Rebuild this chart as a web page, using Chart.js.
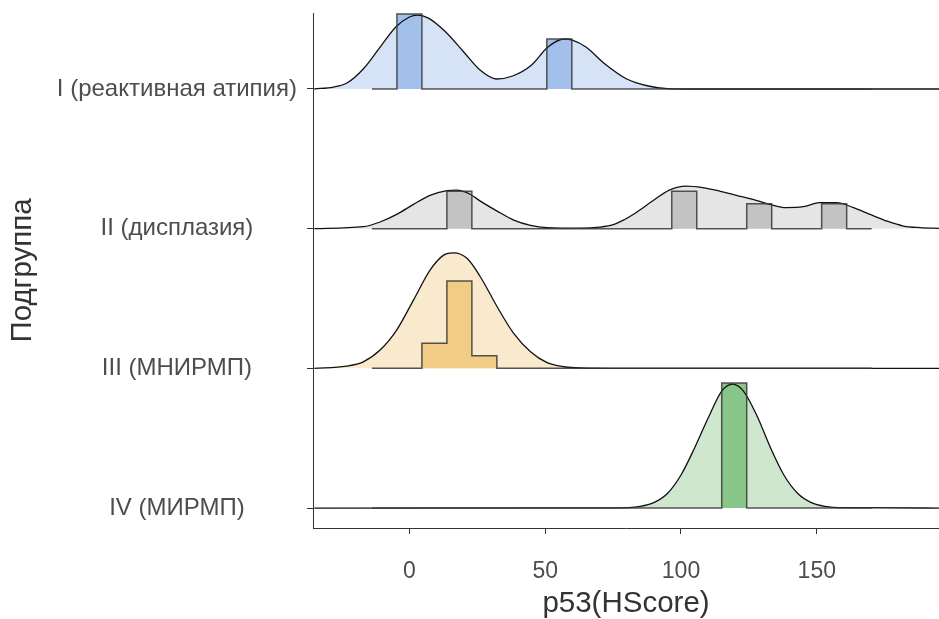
<!DOCTYPE html>
<html>
<head>
<meta charset="utf-8">
<script src="https://cdn.jsdelivr.net/npm/chart.js@4.4.0/dist/chart.umd.min.js"></script>
<style>
  html, body { margin: 0; padding: 0; background: #fff; }
  #wrap { width: 939px; height: 619px; }
</style>
</head>
<body>
<div id="wrap"><canvas id="chart"></canvas></div>
<script>
// groups, top row first
var groups = ['I (реактивная атипия)', 'II (дисплазия)', 'III (МНИРМП)', 'IV (МИРМП)'];
var xTicks = [0, 50, 100, 150];

// histogram: 20 bins of width 9.2 starting at -13.8
var binStart = -13.8;
var binWidth = 9.2;
var countsI   = [0,3,0,0,0,0,0,2,0,0,0,0,0,0,0,0,0,0,0,0];
var countsII  = [0,0,0,3,0,0,0,0,0,0,0,0,3,0,0,2,0,0,2,0];
var countsIII = [0,0,2,7,1,0,0,0,0,0,0,0,0,0,0,0,0,0,0,0];
var countsIV  = [0,0,0,0,0,0,0,0,0,0,0,0,0,0,9,0,0,0,0,0];

// density curves
var densXI = [-35,-28,-23,-17,-11,-5,0,3,7,13,20,26,32,38,45,51,57,60,65,72,80,88,95,105,195];
var densYI = [0,0.0017,0.0052,0.0174,0.0357,0.0539,0.0626,0.0643,0.0617,0.0504,0.0322,0.0165,0.0087,0.0113,0.0209,0.0365,0.0435,0.0426,0.0365,0.0217,0.0087,0.0026,0.0004,0,0];

var densXII = [-35,-17,-10.8,-4.7,1.5,7.6,13.8,17.4,22,26.1,32.3,38.4,44.6,50.6,63,70,75.4,79.1,83.4,89.5,95.7,101.9,108,114.2,120.4,126.5,132.7,138.8,145,151.1,157.3,163.5,169.6,175.8,181.9,188.1,195];
var densYII = [0,0.0017,0.0058,0.0124,0.0211,0.029,0.033,0.0335,0.0304,0.024,0.0153,0.0075,0.0029,0.0009,0.0004,0.0013,0.0037,0.0078,0.0139,0.024,0.0336,0.037,0.0357,0.0327,0.029,0.0255,0.0211,0.0183,0.0191,0.0226,0.0226,0.0183,0.0124,0.0066,0.0023,0.0009,0.0003];

var densXIII = [-35,-23.2,-17,-10.8,-4.7,1.5,7.6,12.6,16.3,21.2,26.1,32.3,38.4,44.6,50.7,56.9,63.1,75,195];
var densYIII = [0,0.002,0.0057,0.0159,0.0333,0.0594,0.0855,0.0985,0.1005,0.0957,0.0797,0.0536,0.0304,0.0144,0.0049,0.0014,0.0003,0,0];

var densXIV = [-35,75,85,90,95,100,105,110,115,119,123,128,133,138,143,148,153,160,195];
var densYIV = [0,0.0001,0.0015,0.0047,0.0126,0.0287,0.0522,0.0783,0.1017,0.1078,0.1017,0.08,0.0522,0.0283,0.0126,0.0047,0.0015,0.0003,0];

var fillColors = ['#d6e3f6', '#e5e5e5', '#f9e9cd', '#cfe6cf'];
var barColors  = ['#a3c0ed', '#c3c3c3', '#f0cc85', '#88c588'];

// density units -> row units
var DENS_TO_ROW = 8.23;
var FONT = "'Liberation Sans', Arial, sans-serif";

function densityPoints(xs, ys, row) {
    return xs.map(function(x, i) { return { x: x, y: row + ys[i] * DENS_TO_ROW }; });
}

function histPoints(counts, row) {
    var n = counts.reduce(function(a, b) { return a + b; }, 0);
    var pts = [];
    counts.forEach(function(c, k) {
        var h = c / n / binWidth * DENS_TO_ROW;
        var x0 = binStart + k * binWidth;
        pts.push({ x: x0, y: row + h });
        pts.push({ x: x0 + binWidth, y: row + h });
    });
    return pts;
}

var dens = [[densXI, densYI], [densXII, densYII], [densXIII, densYIII], [densXIV, densYIV]];
var counts = [countsI, countsII, countsIII, countsIV];

var datasets = [];
groups.forEach(function(g, i) {
    var row = groups.length - 1 - i;
    datasets.push({
        label: g + ' density',
        data: densityPoints(dens[i][0], dens[i][1], row),
        fill: { value: row },
        backgroundColor: fillColors[i],
        borderColor: '#111',
        borderWidth: 1.3,
        pointRadius: 0,
        cubicInterpolationMode: 'monotone',
        order: 2
    });
    datasets.push({
        label: g + ' hist',
        data: histPoints(counts[i], row),
        fill: { value: row },
        backgroundColor: barColors[i],
        borderColor: 'rgba(55,55,55,0.85)',
        borderWidth: 1.5,
        pointRadius: 0,
        tension: 0,
        order: 1
    });
});

function noEdgePadding(s) {
    s.paddingTop = 0; s.paddingBottom = 0; s.paddingLeft = 0; s.paddingRight = 0;
}

window.onload = function() {
    var ctx = document.getElementById('chart').getContext('2d');
    window.theChart = new Chart(ctx, {
        type: 'line',
        data: { datasets: datasets },
        options: {
            responsive: true,
            maintainAspectRatio: false,
            animation: false,
            layout: { padding: { top: 13, right: 0, left: 0, bottom: 0 } },
            plugins: {
                legend: { display: false },
                tooltip: { enabled: false },
                filler: { drawTime: 'beforeDatasetsDraw' }
            },
            scales: {
                x: {
                    type: 'linear',
                    min: -35.5,
                    max: 195,
                    afterBuildTicks: function(s) { s.ticks = xTicks.map(function(v) { return { value: v }; }); },
                    afterFit: function(s) { s.height = 91; noEdgePadding(s); },
                    grid: { display: true, drawOnChartArea: false, drawTicks: true, tickLength: 6, color: '#333' },
                    border: { display: true, color: '#333', width: 1 },
                    ticks: { color: '#4d4d4d', font: { size: 23, family: FONT }, padding: 24, maxRotation: 0 },
                    title: { display: true, text: 'p53(HScore)', color: '#333', font: { size: 29.5, family: FONT, lineHeight: 1 }, padding: { top: 0, bottom: 0 } }
                },
                y: {
                    type: 'linear',
                    min: -0.143,
                    max: 3.544,
                    afterBuildTicks: function(s) { s.ticks = [0, 1, 2, 3].map(function(v) { return { value: v }; }); },
                    afterFit: function(s) { s.width = 313; noEdgePadding(s); },
                    grid: { display: true, drawOnChartArea: false, drawTicks: true, tickLength: 6, color: '#333' },
                    border: { display: true, color: '#333', width: 1 },
                    ticks: {
                        color: '#4d4d4d',
                        font: { size: 24, family: FONT },
                        padding: 10,
                        crossAlign: 'center',
                        callback: function(v) { return groups[groups.length - 1 - v]; }
                    },
                    title: { display: true, text: 'Подгруппа', color: '#333', font: { size: 29.5, family: FONT, lineHeight: 1 }, padding: { top: 8, bottom: 0 } }
                }
            }
        }
    });
};
</script>
</body>
</html>
